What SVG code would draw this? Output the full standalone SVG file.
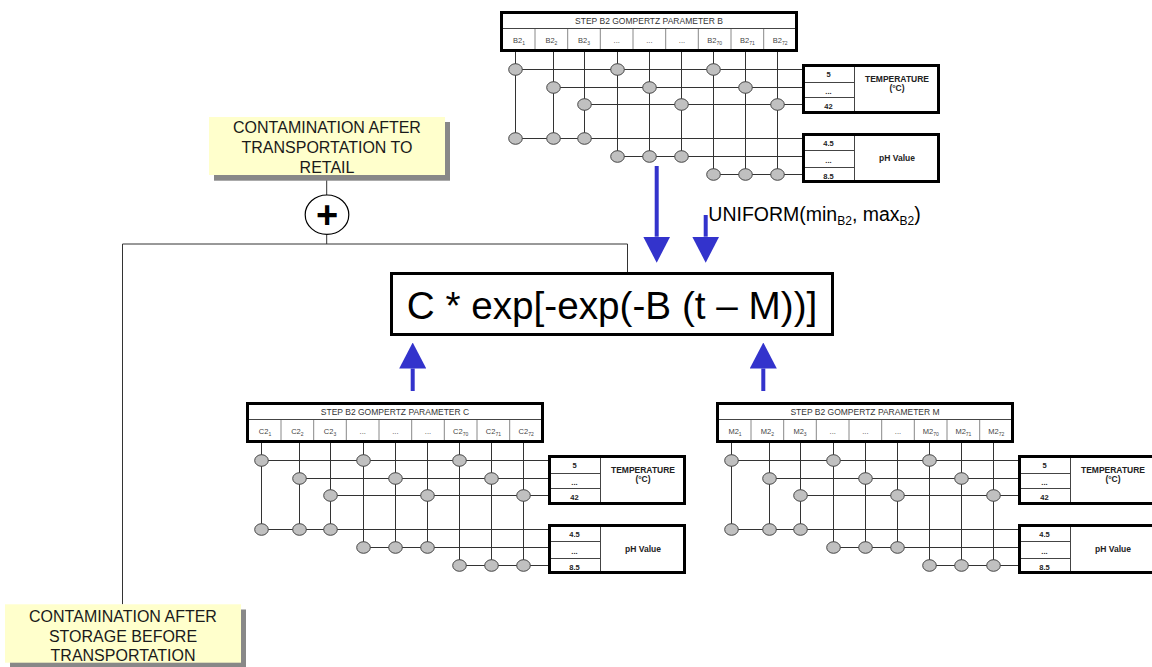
<svg xmlns="http://www.w3.org/2000/svg" xmlns:xlink="http://www.w3.org/1999/xlink" width="1152" height="667" viewBox="0 0 1152 667">
<style>
text{font-family:"Liberation Sans",Arial,sans-serif}
.thick{fill:#fff;stroke:#000;stroke-width:3}
.w{stroke:#333;stroke-width:1;fill:none}
.cd{stroke:#888;stroke-width:1}
.hd{stroke:#444;stroke-width:1}
.dot{fill:#c0c0c0;stroke:#444;stroke-width:1}
.ttl{font-size:8.5px;fill:#333;text-anchor:middle}
.lbl{font-size:7.5px;fill:#444;text-anchor:middle}
.sub{font-size:5px}
.val{font-size:7.5px;font-weight:bold;fill:#222;text-anchor:middle}
.nm{font-size:8.5px;font-weight:bold;fill:#222;text-anchor:middle}
.box{fill:#ffffcc}
.shadow{fill:#888}
.bt{font-size:16px;fill:#1a1a1a;text-anchor:middle}
.conn{stroke:#333;stroke-width:1;fill:none}
.arr{stroke:#3333cc;stroke-width:4;fill:none}
</style>
<defs>
<marker id="ah" viewBox="0 0 26 27" refX="0" refY="13.5" markerWidth="26" markerHeight="27" markerUnits="userSpaceOnUse" orient="auto">
<path d="M0,0 L26,13.5 L0,27 z" fill="#3333cc"/>
</marker>
<g id="grid">
<path class="w" d="M15.5,41V127.5M53.5,41V127.5M84.5,41V127.5M117.5,41V145.5M149.5,41V145.5M181.5,41V145.5M213.5,41V163.5M245.5,41V163.5M277.5,41V163.5"/>
<path class="w" d="M15.5,58.5H302M53.5,76.5H302M84.5,93.5H302M15.5,127.5H302M117.5,145.5H302M213.5,163.5H302"/>
<ellipse class="dot" cx="15.5" cy="58.5" rx="6.8" ry="5.8"/>
<ellipse class="dot" cx="117.5" cy="58.5" rx="6.8" ry="5.8"/>
<ellipse class="dot" cx="213.5" cy="58.5" rx="6.8" ry="5.8"/>
<ellipse class="dot" cx="53.5" cy="76.5" rx="6.8" ry="5.8"/>
<ellipse class="dot" cx="149.5" cy="76.5" rx="6.8" ry="5.8"/>
<ellipse class="dot" cx="245.5" cy="76.5" rx="6.8" ry="5.8"/>
<ellipse class="dot" cx="84.5" cy="93.5" rx="6.8" ry="5.8"/>
<ellipse class="dot" cx="181.5" cy="93.5" rx="6.8" ry="5.8"/>
<ellipse class="dot" cx="277.5" cy="93.5" rx="6.8" ry="5.8"/>
<ellipse class="dot" cx="15.5" cy="127.5" rx="6.8" ry="5.8"/>
<ellipse class="dot" cx="53.5" cy="127.5" rx="6.8" ry="5.8"/>
<ellipse class="dot" cx="84.5" cy="127.5" rx="6.8" ry="5.8"/>
<ellipse class="dot" cx="117.5" cy="145.5" rx="6.8" ry="5.8"/>
<ellipse class="dot" cx="149.5" cy="145.5" rx="6.8" ry="5.8"/>
<ellipse class="dot" cx="181.5" cy="145.5" rx="6.8" ry="5.8"/>
<ellipse class="dot" cx="213.5" cy="163.5" rx="6.8" ry="5.8"/>
<ellipse class="dot" cx="245.5" cy="163.5" rx="6.8" ry="5.8"/>
<ellipse class="dot" cx="277.5" cy="163.5" rx="6.8" ry="5.8"/>
<rect class="thick" x="303.5" y="54.5" width="135" height="47"/>
<path class="hd" d="M354.5,56V100M305,71.5H354M305,86.5H354"/>
<text class="val" x="328.5" y="65.5">5</text>
<text class="val" x="328.5" y="83">...</text>
<text class="val" x="328.5" y="98">42</text>
<text class="nm" x="397" y="70.5">TEMPERATURE</text>
<text class="nm" x="397" y="80">(°C)</text>
<rect class="thick" x="303.5" y="123.5" width="135" height="47"/>
<path class="hd" d="M354.5,125V169M305,139.5H354M305,156.5H354"/>
<text class="val" x="328.5" y="135">4.5</text>
<text class="val" x="328.5" y="152">...</text>
<text class="val" x="328.5" y="167.5">8.5</text>
<text class="nm" x="397" y="150">pH Value</text>
</g>
<g id="hdrframe">
<rect class="thick" x="1.5" y="1.5" width="295" height="38"/>
<path class="hd" d="M3,17.5H295"/>
<path class="cd" d="M35,18V38M67.7,18V38M100.3,18V38M133,18V38M165.7,18V38M198.3,18V38M231,18V38M263.7,18V38"/>
</g>
</defs>

<g id="connectors">
<path class="conn" d="M326.7,175V195M326.7,234.5V244M122.5,244H627.5V272M122.5,244V604.3"/>
<line class="arr" x1="656.7" y1="166" x2="656.7" y2="236.7" marker-end="url(#ah)"/>
<line class="arr" x1="705.7" y1="215" x2="705.7" y2="236.7" marker-end="url(#ah)"/>
<line class="arr" x1="412.7" y1="391" x2="412.7" y2="368.5" marker-end="url(#ah)"/>
<line class="arr" x1="763.3" y1="391" x2="763.3" y2="368.5" marker-end="url(#ah)"/>
</g>

<g id="paramB" transform="translate(500,11)">
<use href="#grid"/>
<use href="#hdrframe"/>
<text class="ttl" x="149" y="12.5">STEP B2 GOMPERTZ PARAMETER B</text>
<text class="lbl" x="19" y="32">B2<tspan class="sub" dy="1.5">1</tspan></text>
<text class="lbl" x="51.4" y="32">B2<tspan class="sub" dy="1.5">2</tspan></text>
<text class="lbl" x="84" y="32">B2<tspan class="sub" dy="1.5">3</tspan></text>
<text class="lbl" x="116.7" y="32">...</text>
<text class="lbl" x="149.4" y="32">...</text>
<text class="lbl" x="182" y="32">...</text>
<text class="lbl" x="214.7" y="32">B2<tspan class="sub" dy="1.5">70</tspan></text>
<text class="lbl" x="247.4" y="32">B2<tspan class="sub" dy="1.5">71</tspan></text>
<text class="lbl" x="280.2" y="32">B2<tspan class="sub" dy="1.5">72</tspan></text>
</g>

<g id="paramC" transform="translate(246,402)">
<use href="#grid"/>
<use href="#hdrframe"/>
<text class="ttl" x="149" y="12.5">STEP B2 GOMPERTZ PARAMETER C</text>
<text class="lbl" x="19" y="32">C2<tspan class="sub" dy="1.5">1</tspan></text>
<text class="lbl" x="51.4" y="32">C2<tspan class="sub" dy="1.5">2</tspan></text>
<text class="lbl" x="84" y="32">C2<tspan class="sub" dy="1.5">3</tspan></text>
<text class="lbl" x="116.7" y="32">...</text>
<text class="lbl" x="149.4" y="32">...</text>
<text class="lbl" x="182" y="32">...</text>
<text class="lbl" x="214.7" y="32">C2<tspan class="sub" dy="1.5">70</tspan></text>
<text class="lbl" x="247.4" y="32">C2<tspan class="sub" dy="1.5">71</tspan></text>
<text class="lbl" x="280.2" y="32">C2<tspan class="sub" dy="1.5">72</tspan></text>
</g>

<g id="paramM" transform="translate(716,402)">
<use href="#grid"/>
<use href="#hdrframe"/>
<text class="ttl" x="149" y="12.5">STEP B2 GOMPERTZ PARAMETER M</text>
<text class="lbl" x="19" y="32">M2<tspan class="sub" dy="1.5">1</tspan></text>
<text class="lbl" x="51.4" y="32">M2<tspan class="sub" dy="1.5">2</tspan></text>
<text class="lbl" x="84" y="32">M2<tspan class="sub" dy="1.5">3</tspan></text>
<text class="lbl" x="116.7" y="32">...</text>
<text class="lbl" x="149.4" y="32">...</text>
<text class="lbl" x="182" y="32">...</text>
<text class="lbl" x="214.7" y="32">M2<tspan class="sub" dy="1.5">70</tspan></text>
<text class="lbl" x="247.4" y="32">M2<tspan class="sub" dy="1.5">71</tspan></text>
<text class="lbl" x="280.2" y="32">M2<tspan class="sub" dy="1.5">72</tspan></text>
</g>

<g id="formula">
<rect class="thick" x="391.5" y="273.5" width="441" height="61"/>
<text x="612" y="319" font-size="38.7" fill="#000" text-anchor="middle">C * exp[-exp(-B (t – M))]</text>
</g>

<g id="uniform">
<text x="708.3" y="220.7" font-size="19.5" fill="#000">UNIFORM(min<tspan font-size="12" dy="4.3">B2</tspan><tspan dy="-4.3">, max</tspan><tspan font-size="12" dy="4.3">B2</tspan><tspan dy="-4.3">)</tspan></text>
</g>

<g id="retail">
<rect class="shadow" x="214" y="122" width="236" height="58.7"/>
<rect class="box" x="209" y="117" width="236" height="58"/>
<text class="bt" x="327" y="133">CONTAMINATION AFTER</text>
<text class="bt" x="327" y="153">TRANSPORTATION TO</text>
<text class="bt" x="327" y="172.5">RETAIL</text>
</g>

<g id="sum">
<ellipse cx="327" cy="214.7" rx="21.8" ry="19.7" fill="#fff" stroke="#000" stroke-width="1.2"/>
<text x="327" y="228" font-size="38" font-weight="bold" fill="#000" text-anchor="middle">+</text>
</g>

<g id="storage">
<rect class="shadow" x="10" y="609.5" width="236" height="58"/>
<rect class="box" x="5" y="604.3" width="236" height="58.4"/>
<text class="bt" x="123" y="621.5">CONTAMINATION AFTER</text>
<text class="bt" x="123" y="641.5">STORAGE BEFORE</text>
<text class="bt" x="123" y="661.3">TRANSPORTATION</text>
</g>
</svg>
